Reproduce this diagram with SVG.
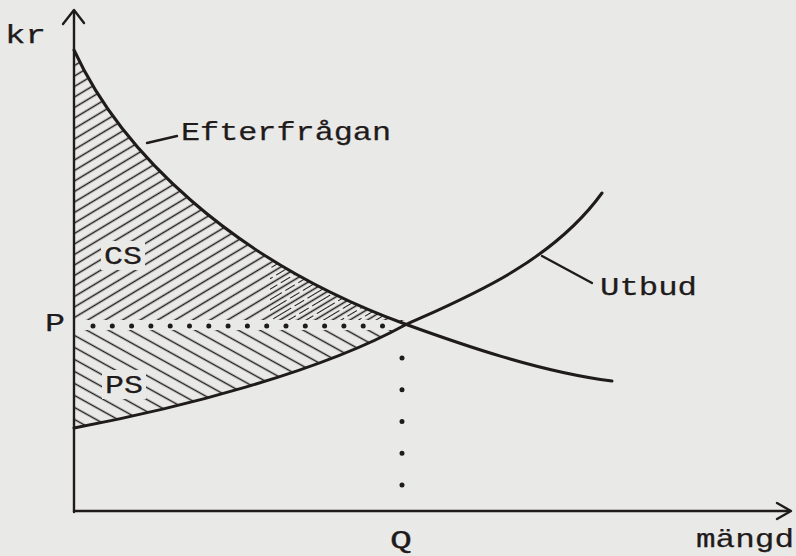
<svg xmlns="http://www.w3.org/2000/svg" width="796" height="556" viewBox="0 0 796 556">
  <style>
    .ink { stroke: #1f1b1b; fill: none; stroke-linecap: round; stroke-linejoin: round; }
    .axis { stroke-width: 2.4; }
    .curve { stroke-width: 3; }
    .lead { stroke-width: 2.4; }
    .dots { stroke: #1f1b1b; stroke-width: 5; stroke-linecap: round; fill: none; }
    .knock { fill: #e9e9e7; }
    .lbl { font-family: "Liberation Mono", "DejaVu Sans Mono", monospace; font-size: 25px; fill: #1f1b1b; stroke: #1f1b1b; stroke-width: 0.25; }
  </style>
  <defs>
    <pattern id="hatchCS" patternUnits="userSpaceOnUse" width="40" height="9" patternTransform="rotate(-31)">
      <line x1="-1" y1="4.5" x2="41" y2="4.5" stroke="#1f1b1b" stroke-width="1.5"/>
    </pattern>
    <pattern id="hatchCS2" patternUnits="userSpaceOnUse" width="40" height="9" patternTransform="rotate(-31) translate(0,4.5)">
      <line x1="0" y1="4.5" x2="40" y2="4.5" stroke="#1f1b1b" stroke-width="1.2" stroke-dasharray="11 4"/>
    </pattern>
    <pattern id="hatchPS" patternUnits="userSpaceOnUse" width="40" height="10.5" patternTransform="rotate(29)">
      <line x1="-1" y1="5.25" x2="41" y2="5.25" stroke="#1f1b1b" stroke-width="1.6"/>
    </pattern>
    <clipPath id="clipCS">
      <path d="M74,50 C120,150 230,260 405,324 L405,320 L74,320 Z"/>
    </clipPath>
    <clipPath id="clipPS">
      <path d="M74,330 L402,330 L405,325 C320,372 180,408 74,428 Z"/>
    </clipPath>
  </defs>

  <rect width="796" height="556" fill="#e9e9e7"/>

  <g id="hatching">
    <g clip-path="url(#clipCS)">
      <rect x="74" y="40" width="340" height="290" fill="url(#hatchCS)"/>
      <rect x="270" y="236" width="135" height="88" fill="url(#hatchCS2)"/>
    </g>
    <g clip-path="url(#clipPS)">
      <rect x="74" y="320" width="340" height="115" fill="url(#hatchPS)"/>
    </g>
    <rect class="knock" x="101" y="241" width="44" height="29"/>
    <rect class="knock" x="102" y="370" width="44" height="29"/>
  </g>

  <g id="axes" class="ink axis">
    <line x1="74" y1="11" x2="74" y2="512"/>
    <polyline points="63,24 74,10 84,23"/>
    <line x1="74" y1="511" x2="788" y2="511"/>
    <polyline points="777,503 791,511 777,519"/>
  </g>

  <g id="guides">
    <line class="dots" x1="93" y1="326" x2="383.5" y2="326" stroke-dasharray="0 19.3"/>
    <line class="dots" x1="402" y1="358" x2="402" y2="485.5" stroke-dasharray="0 31.75"/>
  </g>

  <g id="efterfragan">
    <path class="ink curve" d="M74,50 C120,150 230,260 405,324 C460,344 540,372 612,381"/>
    <line class="ink lead" x1="147" y1="143" x2="177" y2="136"/>
    <text class="lbl" x="181" y="140" textLength="210" lengthAdjust="spacingAndGlyphs">Efterfrågan</text>
  </g>

  <g id="utbud">
    <path class="ink curve" d="M74,428 C180,408 320,372 405,325 C460,300 550,265 602,193"/>
    <line class="ink lead" x1="542" y1="256" x2="592" y2="283"/>
    <text class="lbl" x="600" y="295" textLength="97" lengthAdjust="spacingAndGlyphs">Utbud</text>
  </g>

  <g id="labels">
    <text class="lbl" x="5" y="43" textLength="41" lengthAdjust="spacingAndGlyphs">kr</text>
    <text class="lbl" x="104" y="264" textLength="38" lengthAdjust="spacingAndGlyphs">CS</text>
    <text class="lbl" x="45" y="331" textLength="20" lengthAdjust="spacingAndGlyphs">P</text>
    <text class="lbl" x="105" y="393" textLength="38" lengthAdjust="spacingAndGlyphs">PS</text>
    <text class="lbl" x="390" y="548" textLength="22" lengthAdjust="spacingAndGlyphs">Q</text>
    <text class="lbl" x="696" y="547" textLength="98" lengthAdjust="spacingAndGlyphs">mängd</text>
  </g>
</svg>
